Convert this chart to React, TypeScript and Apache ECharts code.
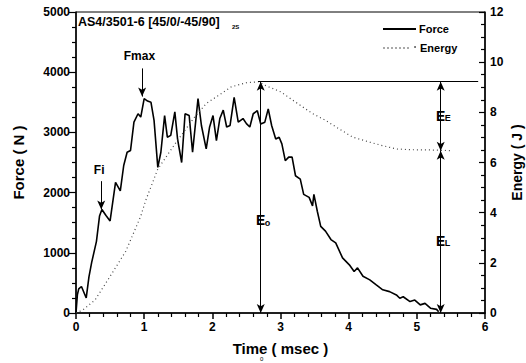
import React, { useEffect, useRef } from "react";
import * as echarts from "echarts";

const forceTime = [0, 0.02, 0.04, 0.08, 0.15, 0.19, 0.23, 0.3, 0.345, 0.38, 0.44, 0.5, 0.58, 0.65, 0.7, 0.75, 0.8, 0.85, 0.91, 0.95, 1.0, 1.05, 1.1, 1.145, 1.2, 1.245, 1.3, 1.34, 1.39, 1.45, 1.49, 1.55, 1.6, 1.66, 1.71, 1.79, 1.84, 1.91, 1.96, 2.01, 2.06, 2.11, 2.16, 2.21, 2.26, 2.32, 2.38, 2.45, 2.5, 2.55, 2.6, 2.66, 2.71, 2.77, 2.82, 2.87, 2.93, 2.98, 3.02, 3.07, 3.12, 3.17, 3.22, 3.29, 3.34, 3.42, 3.47, 3.49, 3.54, 3.59, 3.66, 3.74, 3.81, 3.91, 4.01, 4.08, 4.13, 4.21, 4.31, 4.4, 4.5, 4.6, 4.7, 4.75, 4.8, 4.9, 4.97, 5.05, 5.12, 5.2, 5.29, 5.32];
const forceValues = [0, 300, 400, 440, 250, 600, 840, 1190, 1610, 1720, 1620, 1530, 2170, 2030, 2450, 2670, 2700, 3170, 3310, 3255, 3560, 3520, 3500, 3200, 2420, 2670, 3280, 2920, 2950, 3340, 2890, 2500, 3310, 3280, 2670, 3560, 3115, 2725, 3090, 3280, 2865, 3230, 3370, 3090, 3115, 3580, 3170, 3230, 3145, 3090, 3310, 3360, 3140, 3170, 3390, 3115, 2890, 2920, 2810, 2530, 2590, 2590, 2280, 2225, 1970, 1920, 1780, 1970, 1690, 1440, 1360, 1220, 1165, 915, 800, 690, 750, 610, 550, 470, 385, 355, 300, 245, 270, 190, 215, 135, 160, 80, 60, 20];

const energyTime = [0, 0.1, 0.28, 0.5, 0.73, 0.95, 1.02, 1.2, 1.47, 1.74, 1.91, 2.06, 2.28, 2.5, 2.68, 2.77, 3.0, 3.29, 3.47, 3.66, 3.86, 4.06, 4.31, 4.5, 4.7, 4.9, 5.2, 5.52];
const energyValues = [0, 0.12, 0.52, 1.46, 2.46, 3.86, 4.47, 5.74, 6.81, 7.81, 8.35, 8.62, 9.02, 9.18, 9.22, 9.08, 8.82, 8.28, 7.95, 7.68, 7.34, 7.01, 6.81, 6.67, 6.54, 6.51, 6.5, 6.47];

// annotation values (data units)
const energyMax = 9.22;
const energyFinal = 6.47;
const e0Time = 2.71;
const eRightTime = 5.35;
const fiTime = 0.37;
const fiArrow = [2190, 1720];
const fmaxTime = 0.97;
const fmaxArrow = [4063, 3595];
// [time, value, axis(0 force / 1 energy), main text, subscript]
const annotationLabels: [number, number, number, string, string][] = [
  [0.34, 2380, 0, "Fi", ""],
  [0.93, 4265, 0, "Fmax", ""],
  [e0Time, 3.7, 1, "E", "o"],
  [eRightTime, 7.87, 1, "E", "E"],
  [eRightTime, 2.89, 1, "E", "L"],
];

const FONT = "'Liberation Sans', Arial, sans-serif";

export default function App() {
  const ref = useRef<HTMLDivElement>(null);
  useEffect(() => {
    document.body.style.margin = "0";
    const chart = echarts.init(ref.current!, null, { renderer: "svg" });
    const forceData = forceTime.map((t, i) => [t, forceValues[i]]);
    const energyData = energyTime.map((t, i) => [t, energyValues[i]]);
    const axisLabel = { color: "#000", fontFamily: FONT, fontWeight: "bold", fontSize: 12 };
    const nameStyle = { color: "#000", fontFamily: FONT, fontWeight: "bold", fontSize: 15 };
    const lineBlack = { color: "#000", width: 1, type: "solid" };
    chart.setOption({
      animation: false,
      grid: {
        left: 76, right: 41, top: 12, bottom: 50, show: true, borderColor: "#000", borderWidth: 1,
        outerBoundsMode: "none", containLabel: false,
      },
      xAxis: {
        type: "value", min: 0, max: 6, interval: 1,
        name: "Time ( msec )", nameLocation: "middle", nameGap: 28, nameTextStyle: nameStyle,
        axisLine: { lineStyle: { color: "#000", width: 1.5 } },
        axisTick: { length: 6, lineStyle: { color: "#000", width: 1.5 } },
        minorTick: { show: true, splitNumber: 5, length: 4, lineStyle: { color: "#000", width: 1.2 } },
        axisLabel: { ...axisLabel, margin: 8 },
        splitLine: { show: false },
      },
      yAxis: [
        {
          type: "value", min: 0, max: 5000, interval: 1000,
          name: "Force ( N )", nameLocation: "middle", nameGap: 50, nameTextStyle: nameStyle,
          axisLine: { show: true, lineStyle: { color: "#000", width: 1.5 } },
          axisTick: { show: true, length: 7, lineStyle: { color: "#000", width: 1.2 } },
          minorTick: { show: true, splitNumber: 4, length: 4, lineStyle: { color: "#000", width: 1.2 } },
          axisLabel: { ...axisLabel, margin: 6, formatter: (v: number) => String(v) },
          splitLine: { show: false },
        },
        {
          type: "value", min: 0, max: 12, interval: 2, position: "right",
          name: "Energy ( J )", nameLocation: "middle", nameGap: 25, nameMoveOverlap: false,
          nameTextStyle: { ...nameStyle, fontSize: 14 },
          axisLine: { show: true, lineStyle: { color: "#000", width: 1.5 } },
          axisTick: { show: true, inside: true, length: 6, lineStyle: { color: "#000", width: 1.2 } },
          minorTick: { show: true, splitNumber: 4, length: 4, lineStyle: { color: "#000", width: 1.2 } },
          axisLabel: { ...axisLabel, margin: 5 },
          splitLine: { show: false },
        },
      ],
      series: [
        {
          name: "Force", type: "line", yAxisIndex: 0, data: forceData, symbol: "none",
          lineStyle: { color: "#000", width: 1.6 }, itemStyle: { color: "#000" },
          markLine: {
            silent: true, symbol: ["none", "arrow"], symbolSize: [6, 9],
            label: { show: false }, lineStyle: lineBlack,
            data: [
              [{ coord: [fiTime, fiArrow[0]] }, { coord: [fiTime, fiArrow[1]] }],
              [{ coord: [fmaxTime, fmaxArrow[0]] }, { coord: [fmaxTime, fmaxArrow[1]] }],
            ],
          },
        },
        {
          name: "Energy", type: "line", yAxisIndex: 1, data: energyData, symbol: "none",
          lineStyle: { color: "#444", width: 1.2, type: [1, 3] }, itemStyle: { color: "#444" },
          markLine: {
            silent: true, symbol: ["arrow", "arrow"], symbolSize: [6, 9],
            label: { show: false }, lineStyle: lineBlack,
            data: [
              [{ coord: [e0Time, 0] }, { coord: [e0Time, energyMax] }],
              [{ coord: [eRightTime, energyFinal] }, { coord: [eRightTime, energyMax] }],
              [{ coord: [eRightTime, 0] }, { coord: [eRightTime, energyFinal] }],
              [{ coord: [2.67, energyMax], symbol: "none" }, { coord: [5.9, energyMax], symbol: "none" }],
            ],
          },
        },
      ],
    });

    const g: any[] = [
      { type: "text", left: 78, top: 15, style: { text: "AS4/3501-6 [45/0/-45/90]", fill: "#000", font: `bold 12.5px ${FONT}` } },
      { type: "text", left: 232, top: 24, style: { text: "2S", fill: "#000", font: `bold 6px ${FONT}` } },
      { type: "text", left: 260, top: 356, style: { text: "0", fill: "#000", font: `6px ${FONT}` } },
      // legend
      { type: "line", shape: { x1: 383, y1: 29, x2: 416, y2: 29 }, style: { stroke: "#000", lineWidth: 2 } },
      { type: "text", left: 419, top: 23, style: { text: "Force", fill: "#000", font: `bold 11px ${FONT}` } },
      { type: "line", shape: { x1: 383, y1: 48, x2: 409, y2: 48 }, style: { stroke: "#555", lineWidth: 1.2, lineDash: [2, 2] } },
      { type: "circle", shape: { cx: 415, cy: 47, r: 0.8 }, style: { fill: "#333" } },
      { type: "text", left: 420, top: 42, style: { text: "Energy", fill: "#000", font: `bold 11px ${FONT}` } },
    ];
    annotationLabels.forEach(([t, v, axis, main, sub]) => {
      const p = chart.convertToPixel({ xAxisIndex: 0, yAxisIndex: axis }, [t, v]) as number[];
      const size = sub ? 14 : 12;
      g.push({
        type: "text", x: p[0], y: p[1],
        style: {
          text: main, fill: "#000", font: `bold ${size}px ${FONT}`, align: "center", verticalAlign: "middle",
          backgroundColor: sub ? "#fff" : undefined, padding: sub ? [1, 0, 1, 0] : 0,
        },
      });
      if (sub) {
        g.push({
          type: "text", x: p[0] + 4, y: p[1] + 7,
          style: { text: sub, fill: "#000", font: `bold 9px ${FONT}`, align: "left", verticalAlign: "bottom", backgroundColor: "#fff" },
        });
      }
    });
    chart.setOption({ graphic: g });
    return () => chart.dispose();
  }, []);
  return <div ref={ref} style={{ width: 526, height: 363 }} />;
}
